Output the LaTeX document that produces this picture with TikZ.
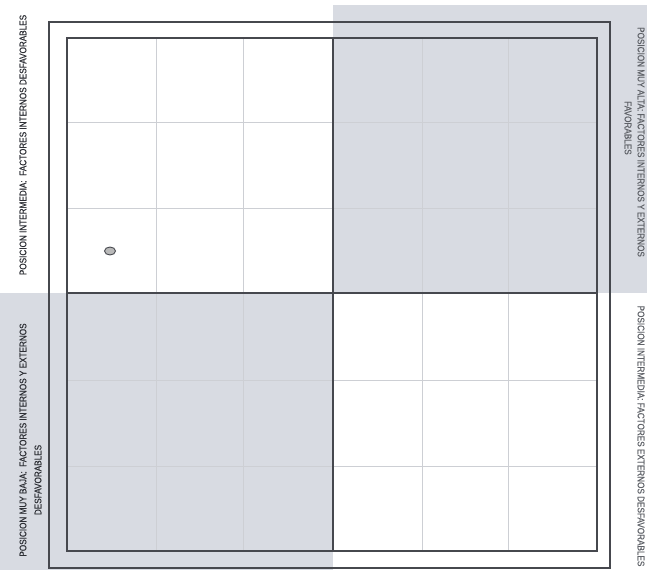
\documentclass[tikz,border=0pt]{standalone}
\usepackage{fontspec}
\newfontfamily\lab[FakeStretch=0.86,FakeBold=0.6]{Liberation Sans}
\usetikzlibrary{shapes.geometric}
\definecolor{qgray}{RGB}{216,219,226}
\definecolor{frame}{RGB}{70,72,78}
\definecolor{gridc}{RGB}{205,207,212}
\definecolor{inkA}{RGB}{45,47,53}
\definecolor{inkB}{RGB}{95,98,104}
\tikzset{
  outerframe/.style={draw=frame, line width=1.1pt},
  cellgrid/.style={draw=gridc, line width=0.5pt},
  lbl/.style={font=\lab\fontsize{9.5}{11}\selectfont, inner sep=0pt, text=inkA},
  lblr/.style={lbl, text=inkB},
}
\begin{document}
\begin{tikzpicture}[x=1pt,y=-1pt]
\useasboundingbox (0,0) rectangle (647,570);
\fill[white] (0,0) rectangle (647,570);
% shaded quadrants
\fill[qgray] (333,5) rectangle (647,293);
\fill[qgray] (0,293) rectangle (333,570);
% grid lines
\foreach \x in {156,243,422,508} \draw[cellgrid] (\x,38) -- (\x,551);
\foreach \y in {122,208,380,466} \draw[cellgrid] (67,\y) -- (597,\y);
% frames
\draw[outerframe] (49,22) rectangle (610,568);
\draw[outerframe] (67,38) rectangle (597,551);
\draw[outerframe] (333,38) -- (333,551);
\draw[outerframe] (67,293) -- (597,293);
% dot
\node[ellipse, draw=frame, fill=gray!55, line width=0.9pt, minimum width=11pt, minimum height=8pt, inner sep=0pt] (dot) at (110,251) {};
% labels
\node[lbl, rotate=90] (l1) at (23,145) {POSICION INTERMEDIA:\ \ FACTORES INTERNOS DESFAVORABLES};
\node[lbl, rotate=90] (l2a) at (23,440) {POSICION MUY BAJA:\ \ FACTORES INTERNOS Y EXTERNOS};
\node[lbl, rotate=90] (l2b) at (38,480) {DESFAVORABLES};
\node[lblr, rotate=-90] (r1a) at (641,142) {POSICION MUY ALTA: FACTORES INTERNOS Y EXTERNOS};
\node[lblr, rotate=-90] (r1b) at (628,128) {FAVORABLES};
\node[lblr, rotate=-90] (r2) at (641,436) {POSICION INTERMEDIA: FACTORES EXTERNOS DESFAVORABLES};
\end{tikzpicture}
\end{document}
